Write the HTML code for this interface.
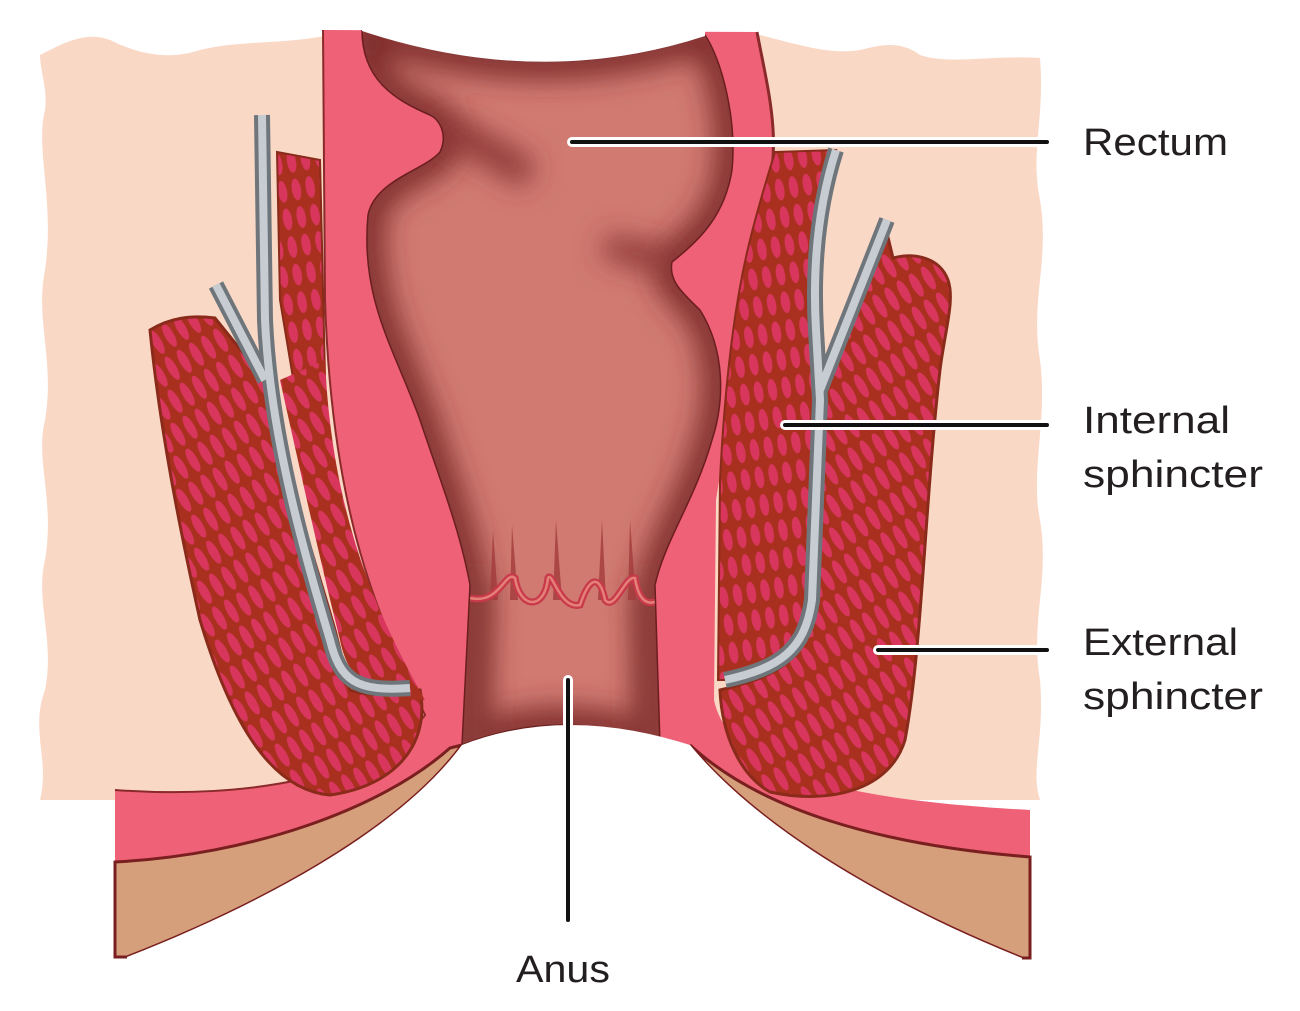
<!DOCTYPE html>
<html><head><meta charset="utf-8"><style>
html,body{margin:0;padding:0;background:#fff;}
svg{display:block}
text{font-family:"Liberation Sans",sans-serif;fill:#231f20;}
</style></head><body>
<svg width="1300" height="1011" viewBox="0 0 1300 1011" xmlns="http://www.w3.org/2000/svg">
<defs>
<pattern id="mus" width="30" height="14" patternUnits="userSpaceOnUse" patternTransform="rotate(60)">
<rect width="30" height="14" fill="#a9301f"/>
<ellipse cx="15" cy="7" rx="13" ry="4.5" fill="#d9365e"/>
</pattern>
<pattern id="mus2" width="14" height="28" patternUnits="userSpaceOnUse" patternTransform="rotate(-10)">
<rect width="14" height="28" fill="#a9301f"/>
<ellipse cx="7" cy="14" rx="4.5" ry="11" fill="#d9365e"/>
</pattern>
<clipPath id="lc"><path id="lumen" d="M362,30 Q540,90 705,35 C722,60 737,120 732,170 C725,215 700,240 672,262 C668,282 685,295 700,310 C725,350 725,400 712,440 C695,500 665,540 655,585 L660,745 Q565,705 462,745 L470,585 C460,530 440,480 420,420 C395,350 360,300 368,215 C375,180 425,170 440,152 C448,135 440,120 430,115 C395,100 362,80 362,30 Z"/></clipPath>
<filter id="bl" filterUnits="userSpaceOnUse" x="0" y="0" width="1300" height="1011"><feGaussianBlur stdDeviation="14"/></filter>
</defs>

<path d="M40,55 C60,45 85,30 110,40 C140,55 170,60 200,50 C240,40 280,45 330,35 L760,35 C800,45 830,55 860,50 C880,45 900,40 920,55 C950,65 990,55 1040,58 C1045,120 1030,150 1040,200 C1050,260 1030,300 1040,360 C1048,420 1030,470 1040,520 C1050,580 1030,620 1040,680 C1045,740 1030,770 1040,800 L40,800 C50,760 30,730 45,690 C55,640 35,600 45,560 C55,500 35,460 45,420 C55,360 35,320 45,270 C55,200 35,150 45,110 C48,90 40,70 40,55 Z" fill="#fad8c6"/>

<path d="M323,30 L757,32 C770,100 785,150 760,220 C745,260 738,320 732,400 L716,500 L714,700 C730,775 850,800 1030,810 L1030,857 C880,845 760,810 690,745 L460,745 C400,810 250,855 115,862 L115,790 C250,800 380,775 425,715 C380,620 332,520 325,300 Z" fill="#ee6176"/>
<path d="M323,30 L325,300 C332,520 380,620 425,715 C380,775 250,800 115,790" fill="none" stroke="#8a2a2a" stroke-width="2"/>
<path d="M757,32 C770,100 785,150 760,220" fill="none" stroke="#8a2a2a" stroke-width="3"/>

<path d="M115,862 C250,855 380,810 450,748 L462,745 C400,830 260,905 127,957 L115,957 Z" fill="#d69f7c" stroke="#7a1f1f" stroke-width="3"/>
<path d="M1030,857 C880,845 760,810 690,745 C760,830 890,905 1022,958 L1030,958 Z" fill="#d69f7c" stroke="#7a1f1f" stroke-width="3"/>

<use href="#lumen" fill="#d07a71"/>
<g clip-path="url(#lc)">
<use href="#lumen" fill="none" stroke="#7d2a2a" stroke-width="34" filter="url(#bl)"/>
<path d="M440,130 C480,140 500,160 530,175" stroke="#8a3434" stroke-width="28" fill="none" filter="url(#bl)"/>
<path d="M672,262 C640,255 620,250 605,245" stroke="#8a3434" stroke-width="24" fill="none" filter="url(#bl)"/>
<path d="M470,585 L470,760" stroke="#8e3c3a" stroke-width="40" filter="url(#bl)"/>
<path d="M655,585 L655,760" stroke="#8e3c3a" stroke-width="40" filter="url(#bl)"/>
<g fill="#a33b3b" opacity="0.8">
<path d="M510,600 L512,525 L518,600 Z"/><path d="M553,600 L556,520 L562,600 Z"/><path d="M598,600 L602,520 L606,600 Z"/><path d="M628,600 L630,520 L636,600 Z"/><path d="M490,600 L493,530 L498,600Z"/>
</g>
<path d="M470,598 C500,605 505,570 515,578 C520,610 545,610 548,578 C552,570 560,610 580,605 C590,575 600,575 605,600 C615,612 625,575 635,578 C640,610 655,605 665,595" fill="none" stroke="#c8394a" stroke-width="7"/>
<path d="M470,598 C500,605 505,570 515,578 C520,610 545,610 548,578 C552,570 560,610 580,605 C590,575 600,575 605,600 C615,612 625,575 635,578 C640,610 655,605 665,595" fill="none" stroke="#e58079" stroke-width="2.5"/>
</g>
<use href="#lumen" fill="none" stroke="#6b1e1e" stroke-width="1.5"/>
<!-- white above lumen top -->
<path d="M362,31 Q540,90 705,36 L705,0 L362,0 Z" fill="#fff"/>
<path d="M300,0 L800,0 L800,30 L300,30 Z" fill="#fff"/>

<path d="M462,745 Q565,705 690,745 C760,830 890,905 1022,958 L1022,1011 L127,1011 L127,957 C260,905 400,830 462,745 Z" fill="#fff"/>

<path d="M277,152 L320,160 L326,420 L300,420 L280,300 Z" fill="url(#mus2)" stroke="#8a2a1a" stroke-width="2"/>
<path d="M150,330 C170,318 190,315 215,318 L265,380 C285,470 315,560 335,630 L350,690 C380,700 405,690 420,690 C430,740 400,785 330,795 C270,790 230,720 200,620 C180,530 160,430 150,330 Z" fill="url(#mus)" stroke="#8a2a1a" stroke-width="3"/>
<path d="M280,380 L325,360 C332,520 380,620 425,700 L410,700 C380,690 350,690 340,640 C320,560 300,470 280,380 Z" fill="url(#mus)"/>
<g fill="none" stroke-linejoin="round">
<path d="M262,115 L265,320 C270,430 300,540 330,640 C340,680 355,692 410,688 M216,285 L265,380" stroke="#6f767b" stroke-width="16"/>
<path d="M262,115 L265,320 C270,430 300,540 330,640 C340,680 355,692 410,688 M216,285 L265,380" stroke="#c6ccd1" stroke-width="8"/>
</g>

<path d="M775,152 L836,150 C820,200 812,250 816,320 L818,400 L812,600 C805,650 780,670 725,680 L718,680 L720,480 C725,380 735,300 750,240 C760,200 768,175 775,152 Z" fill="url(#mus2)" stroke="#8a2a1a" stroke-width="2"/>
<path d="M885,225 L893,258 C915,252 940,258 948,280 C955,300 945,330 940,370 C925,500 922,650 905,740 C890,790 830,805 770,792 C740,775 722,735 720,690 C760,680 800,670 812,620 L818,390 Z" fill="url(#mus)" stroke="#8a2a1a" stroke-width="3"/>
<g fill="none" stroke-linejoin="round">
<path d="M836,150 C820,200 812,260 816,330 L820,400 L812,600 C805,650 780,668 725,680 M887,220 L820,390" stroke="#6f767b" stroke-width="16"/>
<path d="M836,150 C820,200 812,260 816,330 L820,400 L812,600 C805,650 780,668 725,680 M887,220 L820,390" stroke="#c6ccd1" stroke-width="8"/>
</g>

<g stroke-linecap="round">
<line x1="572" y1="142" x2="1047" y2="142" stroke="#fff" stroke-width="10"/>
<line x1="572" y1="142" x2="1047" y2="142" stroke="#111" stroke-width="4"/>
<line x1="785" y1="425" x2="1047" y2="425" stroke="#fff" stroke-width="10"/>
<line x1="785" y1="425" x2="1047" y2="425" stroke="#111" stroke-width="4"/>
<line x1="878" y1="650" x2="1047" y2="650" stroke="#fff" stroke-width="10"/>
<line x1="878" y1="650" x2="1047" y2="650" stroke="#111" stroke-width="4"/>
<line x1="568" y1="680" x2="568" y2="920" stroke="#fff" stroke-width="10"/>
<line x1="568" y1="680" x2="568" y2="920" stroke="#111" stroke-width="4"/>
</g>

<text x="1083" y="155" font-size="38" textLength="145" lengthAdjust="spacingAndGlyphs">Rectum</text>
<text x="1083" y="433" font-size="38" textLength="147" lengthAdjust="spacingAndGlyphs">Internal</text>
<text x="1083" y="487" font-size="38" textLength="180" lengthAdjust="spacingAndGlyphs">sphincter</text>
<text x="1083" y="655" font-size="38" textLength="155" lengthAdjust="spacingAndGlyphs">External</text>
<text x="1083" y="709" font-size="38" textLength="180" lengthAdjust="spacingAndGlyphs">sphincter</text>
<text x="516" y="982" font-size="38" textLength="94" lengthAdjust="spacingAndGlyphs">Anus</text>
</svg>
</body></html>
